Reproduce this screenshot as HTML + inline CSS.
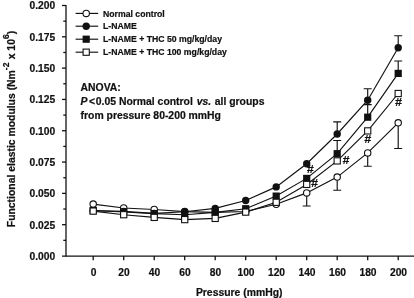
<!DOCTYPE html><html><head><meta charset="utf-8"><title>Functional elastic modulus</title>
<style>html,body{margin:0;padding:0;background:#fff}body{width:414px;height:298px;overflow:hidden}svg{display:block}text{font-family:"Liberation Sans",sans-serif;font-weight:bold;fill:#111;stroke:#111;stroke-width:0.2px}svg{filter:grayscale(1)}</style></head><body>
<svg width="414" height="298" viewBox="0 0 414 298">
<rect width="414" height="298" fill="#fff"/>
<g stroke="#111" stroke-width="1.3" fill="none">
<path d="M66 5.0V256.5"/>
<path d="M62 256.2H414"/>
<path d="M63.3 240.34H66"/>
<path d="M62 224.69H66"/>
<path d="M63.3 209.03H66"/>
<path d="M62 193.38H66"/>
<path d="M63.3 177.72H66"/>
<path d="M62 162.06H66"/>
<path d="M63.3 146.41H66"/>
<path d="M62 130.75H66"/>
<path d="M63.3 115.09H66"/>
<path d="M62 99.44H66"/>
<path d="M63.3 83.78H66"/>
<path d="M62 68.12H66"/>
<path d="M63.3 52.47H66"/>
<path d="M62 36.81H66"/>
<path d="M63.3 21.16H66"/>
<path d="M62 5.50H66"/>
<path d="M93.20 256.0v4.2"/>
<path d="M123.70 256.0v4.2"/>
<path d="M154.20 256.0v4.2"/>
<path d="M184.70 256.0v4.2"/>
<path d="M215.20 256.0v4.2"/>
<path d="M245.70 256.0v4.2"/>
<path d="M276.20 256.0v4.2"/>
<path d="M306.70 256.0v4.2"/>
<path d="M337.20 256.0v4.2"/>
<path d="M367.70 256.0v4.2"/>
<path d="M398.20 256.0v4.2"/>
</g>
<g font-size="10.25" text-anchor="end">
<text x="55.1" y="259.90">0.000</text>
<text x="55.1" y="228.59">0.025</text>
<text x="55.1" y="197.28">0.050</text>
<text x="55.1" y="165.96">0.075</text>
<text x="55.1" y="134.65">0.100</text>
<text x="55.1" y="103.34">0.125</text>
<text x="55.1" y="72.03">0.150</text>
<text x="55.1" y="40.71">0.175</text>
<text x="55.1" y="9.40">0.200</text>
</g>
<g font-size="10.25" text-anchor="middle">
<text x="93.50" y="275.6">0</text>
<text x="124.00" y="275.6">20</text>
<text x="154.50" y="275.6">40</text>
<text x="185.00" y="275.6">60</text>
<text x="215.50" y="275.6">80</text>
<text x="246.00" y="275.6">100</text>
<text x="276.50" y="275.6">120</text>
<text x="307.00" y="275.6">140</text>
<text x="337.50" y="275.6">160</text>
<text x="368.00" y="275.6">180</text>
<text x="398.50" y="275.6">200</text>
</g>
<text x="239.2" y="295.5" font-size="10.4" text-anchor="middle">Pressure (mmHg)</text>
<text transform="translate(15.2 227.2) rotate(-90)" font-size="10.4">Functional elastic modulus (Nm<tspan font-size="8.6" dy="-6">-2</tspan><tspan dy="6" dx="0.3"> x 10</tspan><tspan font-size="8.6" dy="-6">6</tspan><tspan dy="6">)</tspan></text>
<g font-size="10.4">
<text x="80.6" y="90.7">ANOVA:</text>
<text x="80.6" y="104.8"><tspan font-style="italic">P</tspan><tspan dx="1.4">&lt;</tspan><tspan dx="0.8">0.05</tspan> Normal control <tspan font-style="italic" dx="1.1">vs.</tspan><tspan dx="0.6"> all groups</tspan></text>
<text x="80.6" y="118.5">from pressure 80-200 mmHg</text>
</g>
<g font-size="8.7">
<path d="M75.6 13.4H98.2" stroke="#111" stroke-width="1.15"/>
<circle cx="86.20" cy="13.40" r="3.2" fill="#fff" stroke="#111" stroke-width="1.1"/>
<text x="103.0" y="16.50">Normal control</text>
<path d="M75.6 26.2H98.2" stroke="#111" stroke-width="1.15"/>
<circle cx="86.20" cy="26.20" r="3.7" fill="#111"/>
<text x="103.0" y="29.30">L-NAME</text>
<path d="M75.6 39.2H98.2" stroke="#111" stroke-width="1.15"/>
<rect x="82.60" y="35.60" width="7.2" height="7.2" fill="#111"/>
<text x="103.0" y="42.30">L-NAME + THC 50 mg/kg/day</text>
<path d="M75.6 52.2H98.2" stroke="#111" stroke-width="1.15"/>
<rect x="83.10" y="49.10" width="6.2" height="6.2" fill="#fff" stroke="#111" stroke-width="1.1"/>
<text x="103.0" y="55.30">L-NAME + THC 100 mg/kg/day</text>
</g>
<path d="M306.70 192.90V206.00M302.70 206.00h8" stroke="#111" stroke-width="1.15" fill="none"/>
<path d="M337.20 177.10V190.20M333.20 190.20h8" stroke="#111" stroke-width="1.15" fill="none"/>
<path d="M367.70 152.90V166.20M363.70 166.20h8" stroke="#111" stroke-width="1.15" fill="none"/>
<path d="M398.20 122.80V148.50M394.20 148.50h8" stroke="#111" stroke-width="1.15" fill="none"/>
<polyline points="93.20,204.10 123.70,208.00 154.20,209.50 184.70,211.60 215.20,212.40 245.70,211.50 276.20,204.30 306.70,192.90 337.20,177.10 367.70,152.90 398.20,122.80" fill="none" stroke="#111" stroke-width="1.15"/>
<circle cx="93.20" cy="204.10" r="3.2" fill="#fff" stroke="#111" stroke-width="1.1"/>
<circle cx="123.70" cy="208.00" r="3.2" fill="#fff" stroke="#111" stroke-width="1.1"/>
<circle cx="154.20" cy="209.50" r="3.2" fill="#fff" stroke="#111" stroke-width="1.1"/>
<circle cx="184.70" cy="211.60" r="3.2" fill="#fff" stroke="#111" stroke-width="1.1"/>
<circle cx="215.20" cy="212.40" r="3.2" fill="#fff" stroke="#111" stroke-width="1.1"/>
<circle cx="245.70" cy="211.50" r="3.2" fill="#fff" stroke="#111" stroke-width="1.1"/>
<circle cx="276.20" cy="204.30" r="3.2" fill="#fff" stroke="#111" stroke-width="1.1"/>
<circle cx="306.70" cy="192.90" r="3.2" fill="#fff" stroke="#111" stroke-width="1.1"/>
<circle cx="337.20" cy="177.10" r="3.2" fill="#fff" stroke="#111" stroke-width="1.1"/>
<circle cx="367.70" cy="152.90" r="3.2" fill="#fff" stroke="#111" stroke-width="1.1"/>
<circle cx="398.20" cy="122.80" r="3.2" fill="#fff" stroke="#111" stroke-width="1.1"/>
<path d="M337.20 134.00V121.80M333.20 121.80h8" stroke="#111" stroke-width="1.15" fill="none"/>
<path d="M367.70 100.20V88.70M363.70 88.70h8" stroke="#111" stroke-width="1.15" fill="none"/>
<path d="M398.20 47.70V35.70M394.20 35.70h8" stroke="#111" stroke-width="1.15" fill="none"/>
<polyline points="93.20,210.60 123.70,211.40 154.20,213.40 184.70,211.70 215.20,208.40 245.70,200.50 276.20,186.90 306.70,163.70 337.20,134.00 367.70,100.20 398.20,47.70" fill="none" stroke="#111" stroke-width="1.15"/>
<circle cx="93.20" cy="210.60" r="3.7" fill="#111"/>
<circle cx="123.70" cy="211.40" r="3.7" fill="#111"/>
<circle cx="154.20" cy="213.40" r="3.7" fill="#111"/>
<circle cx="184.70" cy="211.70" r="3.7" fill="#111"/>
<circle cx="215.20" cy="208.40" r="3.7" fill="#111"/>
<circle cx="245.70" cy="200.50" r="3.7" fill="#111"/>
<circle cx="276.20" cy="186.90" r="3.7" fill="#111"/>
<circle cx="306.70" cy="163.70" r="3.7" fill="#111"/>
<circle cx="337.20" cy="134.00" r="3.7" fill="#111"/>
<circle cx="367.70" cy="100.20" r="3.7" fill="#111"/>
<circle cx="398.20" cy="47.70" r="3.7" fill="#111"/>
<path d="M337.20 153.70V140.50M333.20 140.50h8" stroke="#111" stroke-width="1.15" fill="none"/>
<path d="M367.70 117.20V104.60M363.70 104.60h8" stroke="#111" stroke-width="1.15" fill="none"/>
<path d="M398.20 73.40V61.00M394.20 61.00h8" stroke="#111" stroke-width="1.15" fill="none"/>
<polyline points="93.20,210.50 123.70,212.00 154.20,213.60 184.70,214.70 215.20,212.40 245.70,208.70 276.20,196.10 306.70,178.40 337.20,153.70 367.70,117.20 398.20,73.40" fill="none" stroke="#111" stroke-width="1.15"/>
<rect x="89.60" y="206.90" width="7.2" height="7.2" fill="#111"/>
<rect x="120.10" y="208.40" width="7.2" height="7.2" fill="#111"/>
<rect x="150.60" y="210.00" width="7.2" height="7.2" fill="#111"/>
<rect x="181.10" y="211.10" width="7.2" height="7.2" fill="#111"/>
<rect x="211.60" y="208.80" width="7.2" height="7.2" fill="#111"/>
<rect x="242.10" y="205.10" width="7.2" height="7.2" fill="#111"/>
<rect x="272.60" y="192.50" width="7.2" height="7.2" fill="#111"/>
<rect x="303.10" y="174.80" width="7.2" height="7.2" fill="#111"/>
<rect x="333.60" y="150.10" width="7.2" height="7.2" fill="#111"/>
<rect x="364.10" y="113.60" width="7.2" height="7.2" fill="#111"/>
<rect x="394.60" y="69.80" width="7.2" height="7.2" fill="#111"/>
<polyline points="93.20,211.10 123.70,214.70 154.20,217.40 184.70,219.60 215.20,218.40 245.70,212.10 276.20,202.30 306.70,184.40 337.20,160.90 367.70,130.90 398.20,93.50" fill="none" stroke="#111" stroke-width="1.15"/>
<rect x="90.10" y="208.00" width="6.2" height="6.2" fill="#fff" stroke="#111" stroke-width="1.1"/>
<rect x="120.60" y="211.60" width="6.2" height="6.2" fill="#fff" stroke="#111" stroke-width="1.1"/>
<rect x="151.10" y="214.30" width="6.2" height="6.2" fill="#fff" stroke="#111" stroke-width="1.1"/>
<rect x="181.60" y="216.50" width="6.2" height="6.2" fill="#fff" stroke="#111" stroke-width="1.1"/>
<rect x="212.10" y="215.30" width="6.2" height="6.2" fill="#fff" stroke="#111" stroke-width="1.1"/>
<rect x="242.60" y="209.00" width="6.2" height="6.2" fill="#fff" stroke="#111" stroke-width="1.1"/>
<rect x="273.10" y="199.20" width="6.2" height="6.2" fill="#fff" stroke="#111" stroke-width="1.1"/>
<rect x="303.60" y="181.30" width="6.2" height="6.2" fill="#fff" stroke="#111" stroke-width="1.1"/>
<rect x="334.10" y="157.80" width="6.2" height="6.2" fill="#fff" stroke="#111" stroke-width="1.1"/>
<rect x="364.60" y="127.80" width="6.2" height="6.2" fill="#fff" stroke="#111" stroke-width="1.1"/>
<rect x="395.10" y="90.40" width="6.2" height="6.2" fill="#fff" stroke="#111" stroke-width="1.1"/>
<g font-size="10.6" font-style="italic" text-anchor="middle" class="h">
<text transform="translate(310.2 172.9) scale(1.15 1)">#</text>
<text transform="translate(314.3 186.6) scale(1.15 1)">#</text>
<text transform="translate(346.0 163.5) scale(1.15 1)">#</text>
<text transform="translate(367.7 142.6) scale(1.15 1)">#</text>
<text transform="translate(398.5 106.1) scale(1.15 1)">#</text>
</g>
</svg></body></html>
